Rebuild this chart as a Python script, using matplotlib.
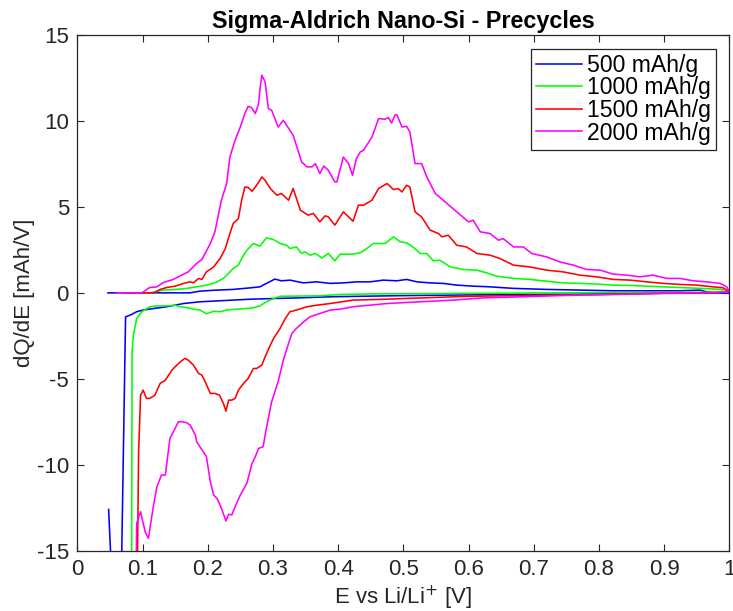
import matplotlib
matplotlib.use("Agg")
import matplotlib.pyplot as plt
import numpy as np

plt.rcParams['font.family'] = ['Liberation Sans', 'DejaVu Sans']
plt.rcParams['axes.unicode_minus'] = False

labels = ['500 mAh/g', '1000 mAh/g', '1500 mAh/g', '2000 mAh/g']
colors = ['#0000ff', '#00ff00', '#ff0000', '#ff00ff']

# --- 500 mAh/g (blue) ---
b_tail_x = [0.048, 0.051, 0.052]
b_tail_y = [-12.6, -15.1, -20]
b_up_x = [0.047, 0.1, 0.173, 0.188, 0.214, 0.239, 0.265, 0.28, 0.29, 0.303, 0.313, 0.326,
          0.339, 0.347, 0.367, 0.388, 0.408, 0.428, 0.449, 0.469, 0.49, 0.505, 0.521, 0.541,
          0.561, 0.582, 0.607, 0.633, 0.669, 0.72, 0.771, 0.822, 0.873, 0.924, 0.955, 0.965,
          0.975, 1.0]
b_up_y = [0, 0, 0, 0.1, 0.16, 0.2, 0.29, 0.35, 0.55, 0.8, 0.7, 0.74,
          0.64, 0.58, 0.64, 0.55, 0.58, 0.64, 0.64, 0.74, 0.7, 0.78, 0.64, 0.58,
          0.55, 0.45, 0.39, 0.35, 0.26, 0.2, 0.16, 0.12, 0.12, 0.12, 0.16, 0.06,
          0.0, 0.0]
b_dn_x = [1.0, 0.95, 0.9, 0.85, 0.8, 0.75, 0.7, 0.65, 0.6, 0.55, 0.5, 0.45, 0.4, 0.388,
          0.341, 0.301, 0.265, 0.239, 0.214, 0.188, 0.163, 0.137, 0.117, 0.101, 0.091,
          0.083, 0.074, 0.066]
b_dn_y = [0.0, -0.02, -0.03, -0.05, -0.06, -0.08, -0.09, -0.1, -0.12, -0.14, -0.16, -0.19,
          -0.22, -0.23, -0.29, -0.33, -0.37, -0.42, -0.47, -0.52, -0.62, -0.81, -0.91, -1.0,
          -1.1, -1.26, -1.4, -20]

# --- 1000 mAh/g (green) ---
g_up_x = [0.065, 0.11, 0.119, 0.132, 0.152, 0.168, 0.183, 0.198, 0.211, 0.224, 0.232, 0.239,
          0.247, 0.252, 0.26, 0.27, 0.28, 0.29, 0.301, 0.311, 0.321, 0.326, 0.336, 0.344,
          0.349, 0.357, 0.365, 0.375, 0.385, 0.395, 0.403, 0.421, 0.434, 0.444, 0.454, 0.472,
          0.485, 0.495, 0.505, 0.513, 0.526, 0.536, 0.546, 0.556, 0.572, 0.592, 0.613, 0.628,
          0.643, 0.669, 0.694, 0.72, 0.745, 0.771, 0.797, 0.822, 0.848, 0.873, 0.899, 0.924,
          0.95, 0.975, 0.996, 1.0]
g_up_y = [0, 0, 0.06, 0.16, 0.2, 0.26, 0.35, 0.45, 0.58, 0.84, 1.13, 1.42,
          1.61, 2.0, 2.48, 2.87, 2.72, 3.2, 3.1, 2.87, 2.77, 2.58, 2.67, 2.29,
          2.38, 2.19, 2.29, 2.03, 2.29, 1.86, 2.25, 2.25, 2.33, 2.58, 2.87, 2.87,
          3.26, 2.97, 2.91, 2.72, 2.29, 2.29, 1.86, 1.9, 1.51, 1.36, 1.32, 1.16,
          0.97, 0.84, 0.78, 0.68, 0.58, 0.55, 0.51, 0.45, 0.43, 0.39, 0.35, 0.31,
          0.27, 0.23, 0.16, 0.05]
g_dn_x = [1.0, 0.95, 0.9, 0.85, 0.8, 0.73, 0.65, 0.55, 0.45, 0.4, 0.372, 0.311, 0.301,
          0.29, 0.28, 0.27, 0.26, 0.244, 0.229, 0.219, 0.209, 0.198, 0.188, 0.178, 0.17,
          0.158, 0.15, 0.137, 0.122, 0.111, 0.099, 0.091, 0.086, 0.084, 0.083]
g_dn_y = [0.05, 0.03, 0.02, 0.02, 0.01, 0.0, -0.02, -0.04, -0.06, -0.1, -0.17, -0.2, -0.33,
          -0.52, -0.76, -0.87, -0.91, -0.95, -1.0, -1.1, -1.07, -1.22, -1.0, -0.95, -0.87,
          -0.81, -0.72, -0.76, -0.76, -0.81, -1.1, -1.49, -2.46, -3.43, -20]

# --- 1500 mAh/g (red) ---
r_up_x = [0.07, 0.11, 0.117, 0.127, 0.137, 0.15, 0.163, 0.173, 0.178, 0.186, 0.191, 0.198,
          0.209, 0.219, 0.227, 0.234, 0.239, 0.247, 0.252, 0.257, 0.262, 0.268, 0.275, 0.283,
          0.288, 0.296, 0.306, 0.313, 0.324, 0.331, 0.342, 0.354, 0.362, 0.372, 0.38, 0.385,
          0.395, 0.408, 0.423, 0.431, 0.439, 0.452, 0.462, 0.475, 0.485, 0.492, 0.498, 0.505,
          0.51, 0.518, 0.528, 0.541, 0.554, 0.559, 0.569, 0.582, 0.597, 0.613, 0.633, 0.648,
          0.669, 0.694, 0.72, 0.745, 0.771, 0.797, 0.822, 0.848, 0.873, 0.899, 0.924, 0.95,
          0.975, 0.991, 1.0]
r_up_y = [0, 0, 0, 0.2, 0.31, 0.39, 0.55, 0.64, 0.58, 0.84, 0.78, 1.22,
          1.51, 2.0, 2.58, 3.45, 4.03, 4.32, 5.39, 6.16, 6.13, 5.91, 6.26, 6.74,
          6.55, 6.07, 5.68, 5.78, 5.39, 6.07, 4.81, 4.52, 4.62, 4.13, 4.48, 4.42,
          3.94, 4.71, 4.17, 5.1, 5.1, 5.39, 6.07, 6.36, 6.01, 6.07, 5.87, 6.26,
          6.16, 4.71, 4.42, 3.65, 3.45, 3.26, 3.35, 2.77, 2.67, 2.29, 2.19, 2.0,
          1.61, 1.51, 1.32, 1.22, 1.03, 0.93, 0.78, 0.74, 0.64, 0.55, 0.49, 0.45,
          0.35, 0.29, 0.05]
r_dn_x = [1.0, 0.95, 0.878, 0.8, 0.7, 0.6, 0.5, 0.475, 0.423, 0.388, 0.367, 0.352, 0.336,
          0.326, 0.319, 0.311, 0.301, 0.296, 0.288, 0.283, 0.275, 0.27, 0.262, 0.255, 0.247,
          0.242, 0.237, 0.232, 0.228, 0.224, 0.218, 0.211, 0.204, 0.196, 0.191, 0.186, 0.178,
          0.17, 0.165, 0.158, 0.15, 0.145, 0.135, 0.127, 0.119, 0.111, 0.106, 0.101, 0.097,
          0.094, 0.091]
r_dn_y = [0.05, 0.0, -0.03, -0.1, -0.15, -0.2, -0.33, -0.37, -0.42, -0.62, -0.72, -0.81, -1.0,
          -1.1, -1.49, -2.07, -2.65, -3.04, -3.72, -4.2, -4.4, -4.4, -4.98, -5.27, -5.66,
          -6.14, -6.24, -6.24, -6.88, -6.43, -5.95, -5.85, -5.85, -5.17, -4.78, -4.69, -4.2,
          -3.91, -3.81, -4.01, -4.3, -4.5, -5.08, -5.27, -5.95, -6.14, -6.14, -5.66, -5.95,
          -9.24, -20]

# --- 2000 mAh/g (magenta) ---
m_up_x = [0.06, 0.099, 0.111, 0.122, 0.132, 0.147, 0.16, 0.17, 0.183, 0.191, 0.204, 0.211,
          0.221, 0.229, 0.234, 0.242, 0.25, 0.257, 0.262, 0.267, 0.273, 0.278, 0.28, 0.283,
          0.288, 0.293, 0.298, 0.308, 0.316, 0.331, 0.344, 0.352, 0.36, 0.365, 0.372, 0.378,
          0.385, 0.395, 0.398, 0.408, 0.416, 0.422, 0.428, 0.434, 0.439, 0.452, 0.462, 0.472,
          0.477, 0.482, 0.487, 0.49, 0.498, 0.505, 0.51, 0.518, 0.528, 0.536, 0.549, 0.567,
          0.582, 0.6, 0.607, 0.618, 0.633, 0.646, 0.653, 0.669, 0.684, 0.697, 0.72, 0.74,
          0.761, 0.781, 0.802, 0.822, 0.843, 0.863, 0.883, 0.904, 0.924, 0.945, 0.965, 0.986,
          0.996, 1.0]
m_up_y = [0, 0, 0.31, 0.35, 0.6, 0.78, 1.03, 1.22, 1.71, 1.94, 2.87, 3.55,
          5.39, 6.36, 7.9, 8.88, 9.65, 10.43, 10.85, 10.78, 10.43, 11.0, 11.8, 12.66,
          12.27, 10.72, 10.62, 9.65, 10.04, 9.17, 7.62, 7.33, 7.33, 7.52, 6.94, 7.38,
          7.13, 6.45, 6.45, 7.9, 7.52, 6.84, 7.81, 8.2, 8.3, 9.07, 10.14, 10.1,
          10.2, 9.88, 10.33, 10.37, 9.65, 9.69, 9.36, 7.52, 7.52, 6.74, 5.78, 5.2,
          4.71, 4.13, 4.23, 3.55, 3.45, 3.06, 3.16, 2.67, 2.67, 2.29, 2.09, 1.8,
          1.61, 1.36, 1.32, 1.09, 1.03, 0.93, 1.03, 0.84, 0.84, 0.7, 0.64, 0.55,
          0.35, 0.06]
m_dn_x = [1.0, 0.98, 0.9, 0.85, 0.8, 0.75, 0.68, 0.62, 0.577, 0.526, 0.475, 0.423, 0.403,
          0.388, 0.372, 0.357, 0.347, 0.336, 0.329, 0.324, 0.316, 0.308, 0.298, 0.29, 0.285,
          0.278, 0.273, 0.268, 0.26, 0.25, 0.242, 0.237, 0.232, 0.228, 0.219, 0.214, 0.209,
          0.204, 0.198, 0.188, 0.183, 0.181, 0.173, 0.167, 0.16, 0.155, 0.15, 0.142, 0.135,
          0.129, 0.122, 0.117, 0.109, 0.104, 0.097, 0.091, 0.089]
m_dn_y = [0.06, 0.0, -0.02, -0.08, -0.11, -0.15, -0.23, -0.3, -0.42, -0.52, -0.62, -0.81, -0.95,
          -1.0, -1.2, -1.39, -1.69, -2.07, -2.36, -2.94, -3.91, -5.17, -6.34, -7.88, -8.95,
          -9.05, -9.53, -9.92, -11.08, -11.76, -12.44, -12.92, -12.88, -13.27, -12.34, -11.95, -11.76,
          -10.99, -9.53, -8.95, -8.66, -8.27, -7.69, -7.54, -7.5, -7.5, -7.88, -8.47, -10.6,
          -10.6, -11.28, -12.34, -14.28, -13.9, -12.73, -13.41, -20]

series = [
    (b_tail_x + [np.nan] + b_up_x + b_dn_x, b_tail_y + [np.nan] + b_up_y + b_dn_y),
    (g_up_x + g_dn_x, g_up_y + g_dn_y),
    (r_up_x + r_dn_x, r_up_y + r_dn_y),
    (m_up_x + m_dn_x, m_up_y + m_dn_y),
]

fig = plt.figure(figsize=(7.33, 6.11), dpi=100)
ax = fig.add_axes([0.1055, 0.0987, 0.8895, 0.844])

for (xs, ys), c, lab in zip(series, colors, labels):
    ax.plot(xs, ys, color=c, lw=1.15, label=lab)

ax.set_xlim(0, 1)
ax.set_ylim(-15, 15)
ax.set_xticks(np.arange(0, 1.01, 0.1))
ax.set_xticklabels(['0', '0.1', '0.2', '0.3', '0.4', '0.5', '0.6', '0.7', '0.8', '0.9', '1'])
ax.set_yticks([-15, -10, -5, 0, 5, 10, 15])
ax.tick_params(direction='in', top=True, right=True, length=5, width=0.8,
               labelsize=16, colors='#262626', pad=6)
for s in ax.spines.values():
    s.set_color('#262626')
    s.set_linewidth(0.9)

ax.set_xlabel('E vs Li/Li$^{+}$ [V]', fontsize=16, color='#262626', labelpad=3)
ax.set_ylabel('dQ/dE [mAh/V]', fontsize=16, color='#262626', labelpad=1)
ax.set_title('Sigma-Aldrich Nano-Si - Precycles', fontsize=16.8, fontweight='bold', pad=5)

leg = ax.legend(loc='upper right', fontsize=16.6, handlelength=2.0, handletextpad=0.2,
                labelspacing=-0.02, borderpad=0.22, borderaxespad=0.6, fancybox=False,
                framealpha=1, edgecolor='#262626')
leg.get_frame().set_linewidth(0.9)

fig.savefig('out.png', dpi=100)
